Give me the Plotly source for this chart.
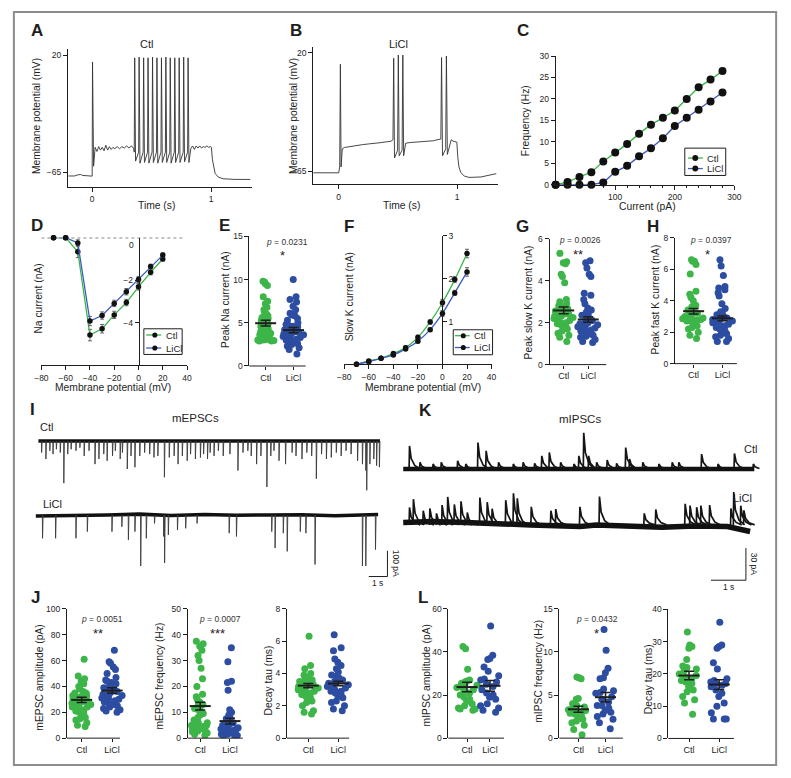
import plotly.graph_objects as go

W, H = 791, 778
FONT = "Liberation Sans, Arial, Helvetica, sans-serif"
INK = "#1e1e1e"
GREEN = "#3db549"
BLUE = "#2c4da1"
GREEN_LINE = "#3bb54a"
BLUE_LINE = "#3d5cc2"

# ------------------------------------------------------------------ data
# A: Ctl current-clamp trace (time s, mV)
A_rest_t = [-0.2, -0.15, -0.12, -0.1, -0.08, -0.04, 0.0]
A_rest_v = [-67.8, -67.8, -67.0, -66.7, -67.4, -67.8, -67.9]
A_early_t = [0.003, 0.012, 0.025, 0.04, 0.055, 0.07, 0.085, 0.10, 0.115, 0.13, 0.145,
             0.16, 0.175, 0.19, 0.21, 0.23, 0.25, 0.27, 0.29, 0.31, 0.33, 0.35]
A_early_v = [15.0, -60.7, -47.0, -50.0, -46.5, -49.0, -47.0, -49.5, -45.5, -49.0, -46.5,
             -48.5, -47.0, -48.0, -46.5, -48.0, -46.5, -47.5, -46.0, -47.5, -46.0, -48.0]
A_spike_t = [0.358, 0.395, 0.433, 0.470, 0.508, 0.545, 0.583, 0.620, 0.657, 0.695, 0.732, 0.770, 0.807]
A_spike_peak = [18.0, 18.5, 18.0, 18.0, 18.5, 18.0, 18.0, 18.5, 18.0, 18.0, 18.0, 18.5, 18.0]
A_spike_trough = [-57.0, -58.5, -58.0, -58.5, -58.0, -58.5, -58.0, -58.0, -58.5, -58.0, -58.0, -57.5, -58.0]
A_threshold = -50.5
A_late_t = [0.83, 0.845, 0.86, 0.875, 0.89, 0.905, 0.92, 0.935, 0.95, 0.965, 0.98, 0.995,
            1.003, 1.012, 1.022, 1.035, 1.06, 1.1, 1.2, 1.33]
A_late_v = [-48.0, -46.0, -48.5, -46.0, -47.5, -46.0, -47.5, -46.5, -47.0, -46.0, -47.0, -46.5,
            -47.0, -56.0, -62.0, -66.0, -68.5, -69.8, -70.3, -70.3]

# B: LiCl current-clamp trace (time s, mV)
B_t = [-0.215, -0.1, -0.02, 0.0, 0.008, 0.014, 0.02, 0.03, 0.05, 0.08, 0.12, 0.16, 0.2, 0.25,
       0.3, 0.35, 0.4, 0.44, 0.458, 0.464, 0.471, 0.497, 0.503, 0.510, 0.535, 0.541, 0.548,
       0.565, 0.6, 0.65, 0.7, 0.75, 0.8, 0.83, 0.862, 0.868, 0.876, 0.903, 0.909, 0.917, 0.935,
       0.95, 0.965, 0.98, 0.997, 1.005, 1.015, 1.03, 1.06, 1.1, 1.2, 1.33]
B_v = [-66.2, -66.3, -66.2, -66.2, -62.0, 11.7, -62.0, -49.0, -48.0, -47.5, -47.0, -46.3, -46.0,
       -45.5, -45.2, -44.6, -44.0, -43.6, -42.5, 16.0, -55.5, -50.0, 18.3, -54.0, -50.0, 18.3,
       -54.0, -45.0, -44.5, -44.2, -43.8, -43.5, -43.2, -42.5, -42.0, 16.5, -54.0, -49.0, 17.6,
       -53.0, -46.0, -42.5, -43.5, -44.0, -44.2, -55.0, -62.0, -66.0, -68.5, -69.5, -69.2, -66.8]

# C: firing frequency vs injected current
C_current = [0, 20, 40, 60, 80, 100, 120, 140, 160, 180, 200, 220, 240, 260, 280]
C_ctl = [0, 0.6, 1.8, 2.9, 5.4, 7.5, 9.5, 11.9, 14.0, 15.6, 17.3, 20.0, 22.7, 24.5, 26.5]
C_licl = [0, 0, 0, 0, 0.5, 3.0, 4.4, 6.6, 8.5, 10.8, 13.7, 15.6, 17.5, 19.4, 21.5]

# D: Na current I-V
IV_mv = [-70, -60, -50, -40, -30, -20, -10, 0, 10, 20]
D_ctl = [0, 0, -0.66, -4.58, -4.28, -3.63, -3.05, -2.31, -1.63, -1.0]
D_ctl_err = [0.02, 0.03, 0.28, 0.27, 0.2, 0.17, 0.15, 0.15, 0.12, 0.1]
D_licl = [0, 0, -0.25, -3.92, -3.66, -3.09, -2.54, -1.97, -1.35, -0.82]
D_licl_err = [0.02, 0.03, 0.15, 0.22, 0.17, 0.15, 0.15, 0.14, 0.1, 0.1]

# F: slow K current I-V
F_ctl = [0, 0.08, 0.14, 0.25, 0.39, 0.63, 0.99, 1.44, 1.98, 2.59]
F_ctl_err = [0.01, 0.02, 0.02, 0.03, 0.04, 0.05, 0.05, 0.08, 0.07, 0.1]
F_licl = [0, 0.06, 0.14, 0.22, 0.36, 0.54, 0.81, 1.19, 1.67, 2.16]
F_licl_err = [0.01, 0.02, 0.02, 0.03, 0.03, 0.04, 0.04, 0.07, 0.06, 0.1]

# scatter groups
GROUPS = ["Ctl", "LiCl"]
E_ctl = [9.8, 9.7, 9.5, 9.3, 8.0, 7.5, 7.2, 6.8, 6.5, 6.2, 6.0, 5.8, 5.6, 5.5, 5.3, 5.1, 5.0, 4.9,
         4.8, 4.7, 4.6, 4.5, 4.4, 4.3, 4.2, 4.0, 3.9, 3.8, 3.6, 3.4, 3.3, 3.1, 3.0, 3.0, 2.9, 2.9,
         3.2, 3.5, 3.0, 3.1, 2.95, 3.3, 3.8, 4.1]
E_licl = [10.0, 8.0, 7.7, 7.4, 6.9, 6.5, 6.1, 5.9, 5.8, 5.5, 5.3, 5.0, 4.8, 4.7, 4.6, 4.5, 4.4,
          4.3, 4.2, 4.1, 4.0, 3.9, 3.9, 3.8, 3.7, 3.6, 3.6, 3.5, 3.4, 3.3, 3.2, 3.1, 3.0, 2.9,
          2.8, 2.7, 2.6, 2.5, 2.3, 2.1, 1.9, 1.4]
E_mean, E_sem = [4.95, 4.15], [0.33, 0.30]
G_ctl = [5.3, 4.9, 4.85, 4.8, 4.3, 4.2, 3.9, 3.1, 3.0, 2.9, 2.8, 2.8, 2.7, 2.65, 2.6, 2.6, 2.55,
         2.5, 2.45, 2.4, 2.4, 2.35, 2.3, 2.3, 2.25, 2.2, 2.2, 2.1, 2.0, 2.0, 1.95, 1.9, 1.8, 1.8,
         1.7, 1.6, 1.5, 1.4, 1.3, 1.1]
G_licl = [4.95, 4.85, 4.6, 4.3, 4.2, 3.4, 3.3, 3.1, 2.9, 2.7, 2.6, 2.5, 2.4, 2.35, 2.3, 2.2, 2.1,
          2.0, 2.0, 1.95, 1.9, 1.9, 1.85, 1.8, 1.75, 1.7, 1.65, 1.6, 1.55, 1.5, 1.45, 1.4, 1.35,
          1.3, 1.2, 1.1, 1.05]
G_mean, G_sem = [2.58, 2.15], [0.16, 0.13]
H_ctl = [6.6, 6.5, 6.5, 6.3, 5.7, 4.6, 4.4, 4.2, 4.0, 3.7, 3.6, 3.5, 3.4, 3.3, 3.3, 3.2, 3.2, 3.1,
         3.0, 3.0, 2.9, 2.9, 2.85, 2.8, 2.8, 2.75, 2.7, 2.7, 2.6, 2.5, 2.4, 2.3, 2.2, 2.0, 1.8, 1.6]
H_licl = [6.6, 6.2, 5.6, 4.9, 4.8, 4.7, 4.5, 4.3, 3.8, 3.5, 3.3, 3.2, 3.1, 3.0, 3.0, 2.9, 2.9,
          2.85, 2.8, 2.8, 2.7, 2.7, 2.6, 2.5, 2.5, 2.4, 2.3, 2.2, 2.1, 2.0, 1.9, 1.8, 1.7, 1.6,
          1.4, 1.4]
H_mean, H_sem = [3.33, 2.88], [0.17, 0.15]
J1_ctl = [61, 48, 46, 44, 42, 40, 38, 36, 35, 35, 34, 33, 33, 32, 32, 31, 31, 30, 29, 29, 28, 28,
          27, 27, 26, 26, 25, 24, 24, 23, 22, 21, 20, 19, 18, 16, 15, 14, 12, 10, 9]
J1_licl = [68, 59, 58, 55, 53, 50, 47, 45, 44, 43, 42, 40, 39, 39, 38, 37, 36, 36, 35, 34, 34, 33,
           32, 31, 30, 30, 29, 28, 27, 26, 26, 25, 24, 23, 22, 21, 20]
J1_mean, J1_sem = [29.6, 36.8], [2.0, 2.1]
J2_ctl = [37.5, 36.5, 35.5, 34, 32, 30, 27, 23, 20, 17, 16, 15, 14, 13, 13, 12, 11.5, 11, 10, 9.5,
          9, 8, 7, 6, 6, 5.5, 5, 5, 4.5, 4.5, 4, 4, 3.8, 3.5, 3, 2.8, 2.5, 2, 1.5, 1]
J2_licl = [35, 29.5, 22, 21.5, 18.5, 11, 10, 9, 8, 7.5, 7, 6.5, 6, 5.5, 5.5, 5, 4.5, 4, 4, 3.5,
           3.5, 3, 3, 3, 2.5, 2.5, 2, 2, 1.5, 1.5, 1, 1, 0.5]
J2_mean, J2_sem = [12.4, 6.6], [1.5, 1.1]
J3_ctl = [6.3, 4.5, 4.3, 4.0, 3.9, 3.8, 3.7, 3.6, 3.6, 3.5, 3.5, 3.4, 3.4, 3.3, 3.3, 3.2, 3.2, 3.1,
          3.1, 3.0, 3.0, 2.9, 2.9, 2.8, 2.7, 2.6, 2.5, 2.4, 2.3, 2.2, 2.0, 1.7, 1.6, 1.5]
J3_licl = [6.4, 5.6, 5.4, 4.9, 4.7, 4.5, 4.3, 4.1, 3.9, 3.8, 3.7, 3.6, 3.6, 3.5, 3.4, 3.4, 3.3,
           3.2, 3.2, 3.1, 3.0, 2.9, 2.9, 2.8, 2.7, 2.6, 2.5, 2.3, 2.2, 2.0, 1.8, 1.7]
J3_mean, J3_sem = [3.25, 3.38], [0.13, 0.14]
L1_ctl = [42.5, 41.5, 32, 27, 26.5, 26, 25.5, 25, 24.5, 24, 23.5, 22.5, 22, 21, 20, 19, 18, 17, 16,
          15, 14, 13.5, 13.5, 13]
L1_licl = [52, 38.5, 37, 36.5, 33, 31, 29, 27.5, 27, 26, 25, 24, 22.5, 21, 20, 19, 18, 16, 15, 14,
           13, 12]
L1_mean, L1_sem = [23.7, 24.3], [2.2, 2.5]
L2_ctl = [7.1, 7.0, 6.9, 4.6, 4.5, 4.0, 3.8, 3.6, 3.4, 3.3, 3.2, 3.1, 3.0, 2.9, 2.8, 2.6, 2.4, 2.2,
          2.0, 1.8, 1.5, 1.0, 0.4]
L2_licl = [12.6, 10.2, 8.1, 7.6, 7.0, 6.9, 5.7, 5.5, 5.3, 5.2, 4.8, 4.5, 4.2, 3.8, 3.8, 3.5, 3.2,
           3.0, 2.8, 2.5, 2.2, 1.8, 1.1]
L2_mean, L2_sem = [3.35, 4.75], [0.35, 0.55]
L3_ctl = [33, 29, 28.5, 28, 24.5, 22.5, 22, 21.5, 21, 20, 19.5, 19, 18.5, 18, 17.5, 17, 16, 15,
          14.5, 13, 12, 11, 7.5]
L3_licl = [36, 29, 28.5, 28, 23.5, 21.5, 18.5, 18, 17.5, 17, 17, 16.5, 16, 15, 14, 13, 11, 10, 8,
           6, 6, 6]
L3_mean, L3_sem = [19.5, 16.7], [1.3, 1.5]

# I: mEPSC events (time s, amplitude pA, inward = downward)
I_ctl_t = [0.16, 0.39, 0.60, 0.77, 0.95, 1.16, 1.35, 1.56, 1.74, 2.0, 2.21, 2.44, 2.70, 3.02, 3.23,
           3.49, 3.67, 3.96, 4.11, 4.37, 4.49, 4.75, 4.95, 5.16, 5.42, 5.68, 5.95, 6.18, 6.39,
           6.74, 7.0, 7.26, 7.47, 7.70, 7.96, 8.14, 8.40, 8.67, 8.84, 9.05, 9.19, 9.40, 9.63,
           9.89, 10.25, 10.68, 10.95, 11.21, 11.39, 11.68, 11.91, 12.23, 12.44, 12.61, 12.88,
           13.23, 13.58, 13.79, 14.11, 14.37, 14.63, 14.88, 15.16, 15.42, 15.68, 15.95, 16.21,
           16.47, 16.74, 17.09, 17.35, 17.53, 17.58, 17.75, 17.96, 18.11, 18.26]
I_ctl_amp = [45, 70, 38, 51, 32, 45, 164, 51, 32, 38, 26, 58, 38, 90, 70, 51, 77, 58, 38, 70, 45,
             109, 58, 102, 58, 45, 51, 64, 58, 141, 64, 58, 90, 58, 77, 51, 70, 64, 51, 70, 45, 58,
             38, 58, 51, 115, 45, 38, 58, 90, 58, 179, 58, 38, 77, 90, 45, 58, 70, 45, 58, 147,
             51, 70, 64, 45, 58, 38, 51, 77, 90, 115, 192, 90, 70, 96, 102]
I_ctl_span = [0.0, 18.3]
I_licl_t = [0.21, 0.91, 2.0, 2.61, 3.93, 4.46, 4.81, 5.16, 5.47, 5.77, 6.21, 6.70, 6.75, 6.95,
            7.44, 7.88, 8.49, 10.21, 10.60, 12.49, 12.67, 13.11, 13.32, 14.02, 14.32, 14.81,
            17.35, 17.53, 18.05]
I_licl_amp = [90, 90, 90, 64, 64, 45, 96, 64, 198, 90, 32, 83, 186, 77, 58, 51, 32, 70, 83, 64,
              128, 70, 141, 64, 70, 192, 198, 198, 134]
I_licl_base_t = [-0.14, 2.0, 3.7, 5.4, 7.1, 8.9, 10.6, 12.4, 14.1, 15.9, 18.2]
I_licl_base_v = [-292, -291, -288, -285, -290, -286, -289, -288, -287, -291, -286]
I_licl_level = -289

# K: mIPSC events (time s, amplitude pA, outward = upward)
K_ctl_t = [0.178, 0.478, 0.852, 1.086, 1.554, 1.788, 2.135, 2.369, 2.725, 3.146, 3.427, 3.755,
           3.96, 4.176, 4.50, 4.88, 5.02, 5.16, 5.30, 5.53, 5.83, 6.10, 6.36, 6.47, 6.85, 7.31,
           7.69, 7.88, 8.53, 9.0, 9.47, 10.01]
K_ctl_amp = [21.4, 6.1, 4.6, 6.1, 7.7, 4.6, 24.5, 16.8, 6.1, 4.6, 6.1, 5.2, 12.2, 15.3, 6.1, 4.6,
             12.2, 33.7, 12.2, 6.1, 8.3, 5.2, 19.9, 9.2, 6.1, 4.6, 6.1, 6.1, 13.8, 4.6, 14.4, 4.6]
K_ctl_span = [0.01, 10.05]
K_licl_t = [0.178, 0.29, 0.57, 0.76, 0.95, 1.11, 1.27, 1.46, 1.65, 1.83, 2.19, 2.40, 2.54, 2.93,
            3.15, 3.26, 3.66, 4.22, 4.36, 5.05, 5.61, 6.89, 7.22, 8.06, 8.20, 8.39, 8.51, 8.76,
            9.37, 9.45, 9.65, 9.74]
K_licl_amp = [16.2, 23.9, 13.2, 15.3, 10.7, 18.4, 26.0, 19.0, 22.0, 11.6, 25.4, 21.1, 15.0, 23.0,
              29.4, 24.8, 16.8, 13.2, 14.7, 16.8, 26.3, 10.7, 14.4, 19.6, 18.0, 16.5, 18.0, 18.4,
              15.3, 30.6, 17.8, 13.5]
K_licl_base_t = [0.01, 0.85, 1.79, 2.73, 3.66, 4.6, 5.07, 5.53, 6.47, 7.41, 8.34, 9.28, 9.93]
K_licl_base_v = [-49.8, -48.9, -49.8, -50.4, -52.0, -52.9, -53.5, -52.0, -53.5, -54.1, -52.9,
                 -53.5, -58.1]
K_licl_level = -52.0

# ------------------------------------------------------------------ helpers
def xd(a, b):
    return [a / W, b / W]


def yd(top, bottom):
    return [1 - bottom / H, 1 - top / H]


def lin(p, pa, va, pb, vb):
    return va + (p - pa) * (vb - va) / (pb - pa)


def refs(i):
    return ("x", "y") if i == 1 else ("x%d" % i, "y%d" % i)


def axstyle(**kw):
    d = dict(showline=True, linecolor=INK, linewidth=1, ticks="outside", ticklen=4,
             tickwidth=1, tickcolor=INK, showgrid=False, zeroline=False, fixedrange=True,
             tickfont=dict(family=FONT, size=8.5, color=INK))
    d.update(kw)
    return d


layout = dict(width=W, height=H, autosize=False, margin=dict(l=0, r=0, t=0, b=0, pad=0),
              paper_bgcolor="white", plot_bgcolor="white", boxmode="overlay", hovermode=False,
              showlegend=False, font=dict(family=FONT, size=10, color=INK))
annotations = []
shapes = []
traces = []


def set_axes(i, xa, ya):
    s = "" if i == 1 else str(i)
    layout["xaxis" + s] = xa
    layout["yaxis" + s] = ya


def ann(text, x, y, size=10, bold=False, angle=0, xanchor="center", yanchor="middle", color=INK):
    annotations.append(dict(text=("<b>%s</b>" % text) if bold else text, x=x / W, y=1 - y / H,
                            xref="paper", yref="paper", showarrow=False, textangle=angle,
                            font=dict(family=FONT, size=size, color=color),
                            xanchor=xanchor, yanchor=yanchor))


def pline(x0, y0, x1, y1, color=INK, width=1):
    shapes.append(dict(type="line", xref="paper", yref="paper", x0=x0 / W, x1=x1 / W,
                       y0=1 - y0 / H, y1=1 - y1 / H, line=dict(color=color, width=width)))


def legend_box(box, rows, line_x, dot_x, text_x, dot_r):
    x0, y0, x1, y1 = box
    shapes.append(dict(type="rect", xref="paper", yref="paper", x0=x0 / W, x1=x1 / W,
                       y0=1 - y1 / H, y1=1 - y0 / H, line=dict(color=INK, width=1),
                       fillcolor="white"))
    for (name, col), ry in zip([("Ctl", GREEN_LINE), ("LiCl", BLUE_LINE)], rows):
        pline(line_x[0], ry, line_x[1], ry, color=col, width=1.3)
        shapes.append(dict(type="circle", xref="paper", yref="paper",
                           x0=(dot_x - dot_r) / W, x1=(dot_x + dot_r) / W,
                           y0=1 - (ry + dot_r) / H, y1=1 - (ry - dot_r) / H,
                           fillcolor="#111", line=dict(color="#111", width=0)))
        ann(name, text_x, ry, size=9.5, xanchor="left")


# ------------------------------------------------------------------ A / B traces
a_t = list(A_rest_t) + list(A_early_t)
a_v = list(A_rest_v) + list(A_early_v)
for ts, pk, tr in zip(A_spike_t, A_spike_peak, A_spike_trough):
    a_t += [ts - 0.004, ts, ts + 0.007]
    a_v += [A_threshold, pk, tr]
a_t += A_late_t
a_v += A_late_v

for i, (tt, vv, geo) in enumerate([(a_t, a_v, (62, 249, 86.7, 207.7, 45, 184.3, 50.7, 169.3)),
                                   (B_t, B_v, (311.7, 500, 337.7, 458.3, 42.7, 181.7, 48.3, 168.3))],
                                  start=1):
    x0, x1, p0, p1, top, bot, p20, p65 = geo
    xr, yr = refs(i)
    traces.append(go.Scatter(x=tt, y=vv, mode="lines", line=dict(color="#333", width=0.9),
                             xaxis=xr, yaxis=yr, cliponaxis=False))
    set_axes(i,
             axstyle(domain=xd(x0, x1), range=[lin(x0, p0, 0, p1, 1), lin(x1, p0, 0, p1, 1)],
                     tickvals=[0, 1], anchor=yr),
             axstyle(domain=yd(top, bot), range=[lin(bot, p20, 20, p65, -65), lin(top, p20, 20, p65, -65)],
                     tickvals=[20, -65], anchor=xr))

# ------------------------------------------------------------------ C
xr, yr = refs(3)
for name, vals, col in [("Ctl", C_ctl, GREEN_LINE), ("LiCl", C_licl, BLUE_LINE)]:
    traces.append(go.Scatter(x=C_current, y=vals, mode="lines+markers", name=name,
                             line=dict(color=col, width=1.4), marker=dict(color="#111", size=8),
                             xaxis=xr, yaxis=yr, cliponaxis=False))
set_axes(3,
         axstyle(domain=xd(558.5, 740.5), range=[0, 300], tickvals=[100, 200, 300], anchor=yr,
                 minor=dict(tickvals=list(range(20, 300, 20)), ticks="outside", ticklen=2.5,
                            tickcolor=INK, tickwidth=1)),
         axstyle(domain=yd(51.7, 182), range=[0, 30], tickvals=[0, 5, 10, 15, 20, 25, 30], anchor=xr))
legend_box((690, 145, 731.7, 172.7), [155, 165.7], (693.3, 708.3), (700.7), 711, 3)

# ------------------------------------------------------------------ D
xr, yr = refs(4)
for name, vals, err, col in [("Ctl", D_ctl, D_ctl_err, GREEN_LINE), ("LiCl", D_licl, D_licl_err, BLUE_LINE)]:
    traces.append(go.Scatter(x=IV_mv, y=vals, mode="lines+markers", name=name,
                             line=dict(color=col, width=1.3), marker=dict(color="#111", size=5.5),
                             error_y=dict(type="data", array=err, color="#555", thickness=0.9, width=2),
                             xaxis=xr, yaxis=yr, cliponaxis=False))
set_axes(4,
         axstyle(domain=xd(35, 183.3), range=[-80, 40], tickvals=[-80, -60, -40, -20, 0, 20, 40], anchor=yr),
         axstyle(domain=yd(235.7, 365), range=[-6, 0], tickvals=[-2, -4], anchor="free",
                 position=134 / W))
shapes.append(dict(type="line", xref=xr, yref=yr, x0=-80, x1=37, y0=0, y1=0,
                   line=dict(color="#111", width=1.3, dash="dot"), layer="below"))
ann("0", 127, 243, size=8.5)
legend_box((139.3, 328, 178.3, 354), [334.3, 347.5], (141.7, 157), 150.5, 159.5, 2.6)

# ------------------------------------------------------------------ F
xr, yr = refs(6)
for name, vals, err, col in [("Ctl", F_ctl, F_ctl_err, GREEN_LINE), ("LiCl", F_licl, F_licl_err, BLUE_LINE)]:
    traces.append(go.Scatter(x=IV_mv, y=vals, mode="lines+markers", name=name,
                             line=dict(color=col, width=1.3, shape="spline", smoothing=0.8),
                             marker=dict(color="#111", size=5.5),
                             error_y=dict(type="data", array=err, color="#555", thickness=0.9, width=2),
                             xaxis=xr, yaxis=yr, cliponaxis=False))
set_axes(6,
         axstyle(domain=xd(343.3, 493.3), range=[-80, 40], tickvals=[-80, -60, -40, -20, 0, 20, 40], anchor=yr),
         axstyle(domain=yd(234, 364), range=[0, 3], tickvals=[1, 2, 3], anchor="free",
                 position=442.7 / W, side="right"))
legend_box((454.3, 329, 494.3, 354.3), [335, 347], (456, 471), 464.5, 473, 2.6)

# ------------------------------------------------------------------ scatter panels
SCATTER = [
    # idx, ctl, licl, mean, sem, yaxis_px, xend_px, ctl_px, licl_px, top_px, bot_px, ymax, dtick
    (5, E_ctl, E_licl, E_mean, E_sem, 246.7, 304, 263.3, 291.7, 234.3, 365.7, 15, 5),
    (7, G_ctl, G_licl, G_mean, G_sem, 552.3, 610, 566.7, 591.7, 236.7, 364.3, 6, 2),
    (8, H_ctl, H_licl, H_mean, H_sem, 680, 743, 699, 728.3, 235.7, 363.3, 8, 2),
    (11, J1_ctl, J1_licl, J1_mean, J1_sem, 61, 115, 76, 107, 611.7, 742.7, 100, 20),
    (12, J2_ctl, J2_licl, J2_mean, J2_sem, 184, 240, 196.7, 227, 611.7, 742.7, 50, 10),
    (13, J3_ctl, J3_licl, J3_mean, J3_sem, 285, 348.3, 306.7, 337.3, 611.7, 742.7, 8, 2),
    (14, L1_ctl, L1_licl, L1_mean, L1_sem, 449.3, 506, 468.3, 491.7, 611.7, 742.7, 60, 20),
    (15, L2_ctl, L2_licl, L2_mean, L2_sem, 562.3, 627, 581.7, 609.3, 611.7, 742.7, 15, 5),
    (16, L3_ctl, L3_licl, L3_mean, L3_sem, 673.3, 740, 694.3, 725, 612.3, 743, 40, 10),
]
for idx, ctl, licl, mean, sem, yax_px, xend, cpx, lpx, top, bot, ymax, dt in SCATTER:
    xr, yr = refs(idx)
    ppu = lpx - cpx
    bw = 2 * 11.5 / ppu
    for grp, vals, col in [("Ctl", ctl, GREEN), ("LiCl", licl, BLUE)]:
        traces.append(go.Box(x=[grp] * len(vals), y=vals, orientation="v", boxpoints="all",
                             jitter=1, pointpos=0, width=bw, whiskerwidth=0,
                             fillcolor="rgba(0,0,0,0)", line=dict(color="rgba(0,0,0,0)", width=0),
                             marker=dict(color=col, size=7, line=dict(width=0)),
                             xaxis=xr, yaxis=yr, hoverinfo="skip"))
    traces.append(go.Scatter(x=GROUPS, y=mean, mode="markers",
                             marker=dict(symbol="line-ew", size=15, color=INK,
                                         line=dict(color=INK, width=2)),
                             error_y=dict(type="data", array=sem, color=INK, thickness=1.5, width=5),
                             xaxis=xr, yaxis=yr, cliponaxis=False))
    lo = (yax_px - cpx) / ppu
    hi = lo + (xend + 30 - yax_px) / ppu
    set_axes(idx,
             axstyle(domain=xd(yax_px, xend + 30), range=[lo, hi], type="category",
                     categoryorder="array", categoryarray=GROUPS, showline=False, ticklen=3,
                     tickfont=dict(family=FONT, size=9, color=INK), anchor=yr),
             axstyle(domain=yd(top, bot), range=[0, ymax], tickvals=list(range(0, ymax + 1, dt)),
                     anchor=xr))
    pline(yax_px, bot, xend, bot)

# ------------------------------------------------------------------ I (mEPSCs)
xr, yr = refs(9)
traces.append(go.Scatter(x=I_ctl_span, y=[0, 0], mode="lines", line=dict(color="#111", width=3.6),
                         xaxis=xr, yaxis=yr))
traces.append(go.Scatter(x=I_licl_base_t, y=I_licl_base_v, mode="lines",
                         line=dict(color="#111", width=3.6), xaxis=xr, yaxis=yr))
ex, ey = [], []
for t, a in zip(I_ctl_t, I_ctl_amp):
    ex += [t, t + 0.01, t + 0.04, None]
    ey += [0, -a, 0, None]
for t, a in zip(I_licl_t, I_licl_amp):
    ex += [t, t + 0.01, t + 0.04, None]
    ey += [I_licl_level, I_licl_level - a, I_licl_level, None]
traces.append(go.Scatter(x=ex, y=ey, mode="lines", line=dict(color="#3a3a3a", width=0.9),
                         xaxis=xr, yaxis=yr, connectgaps=False))
set_axes(9,
         dict(domain=xd(25, 400), range=[lin(25, 32, 0, 51, 1), lin(400, 32, 0, 51, 1)], visible=False,
              anchor=yr, fixedrange=True),
         dict(domain=yd(425, 590), range=[lin(590, 441.7, 0, 467.7, -100), lin(425, 441.7, 0, 467.7, -100)],
              visible=False, anchor=xr, fixedrange=True))
shapes.append(dict(type="line", xref=xr, yref=yr, x0=18.7, x1=18.7, y0=-528, y1=-428,
                   line=dict(color=INK, width=1)))
shapes.append(dict(type="line", xref=xr, yref=yr, x0=17.7, x1=18.7, y0=-528, y1=-528,
                   line=dict(color=INK, width=1)))

# ------------------------------------------------------------------ K (mIPSCs)
xr, yr = refs(10)
traces.append(go.Scatter(x=K_ctl_span, y=[0, 0], mode="lines", line=dict(color="#111", width=4.5),
                         xaxis=xr, yaxis=yr))
traces.append(go.Scatter(x=K_licl_base_t, y=K_licl_base_v, mode="lines", line=dict(color="#111", width=5.5),
                         xaxis=xr, yaxis=yr))
SHAPE_DT = [0, 0.012, 0.06, 0.16, 0.32]
SHAPE_FR = [0, 1, 0.45, 0.15, 0]
kx, ky = [], []
for t, a in zip(K_ctl_t, K_ctl_amp):
    kx += [t + d for d in SHAPE_DT] + [None]
    ky += [f * a for f in SHAPE_FR] + [None]
for t, a in zip(K_licl_t, K_licl_amp):
    kx += [t + d for d in SHAPE_DT] + [None]
    ky += [K_licl_level + f * a for f in SHAPE_FR] + [None]
traces.append(go.Scatter(x=kx, y=ky, mode="lines", line=dict(color="#151515", width=1.7),
                         xaxis=xr, yaxis=yr, connectgaps=False))
set_axes(10,
         dict(domain=xd(400, 766), range=[lin(400, 403, 0, 438.6, 1), lin(766, 403, 0, 438.6, 1)],
              visible=False, anchor=yr, fixedrange=True),
         dict(domain=yd(425, 590), range=[lin(590, 470, 0, 502.7, -30), lin(425, 470, 0, 502.7, -30)],
              visible=False, anchor=xr, fixedrange=True))
shapes.append(dict(type="line", xref=xr, yref=yr, x0=9.81, x1=9.81, y0=-103.4, y1=-73.4,
                   line=dict(color=INK, width=1)))
shapes.append(dict(type="line", xref=xr, yref=yr, x0=8.81, x1=9.81, y0=-103.4, y1=-103.4,
                   line=dict(color=INK, width=1)))

# ------------------------------------------------------------------ texts
for letter, x, y in [("A", 30.5, 26), ("B", 294, 26), ("C", 525, 26), ("D", 31, 223), ("E", 221, 223),
                     ("F", 348, 224), ("G", 525, 224), ("H", 658, 224), ("I", 26, 410),
                     ("K", 426, 411), ("J", 29, 600), ("L", 423, 600)]:
    ann(letter, x, y, size=17, bold=True)

ann("Ctl", 141.7, 39.5, size=11)
ann("LiCl", 398.3, 39.5, size=11)
for text, x, y in [("Membrane potential (mV)", 30, 112), ("Membrane potential (mV)", 291.5, 112),
                   ("Frequency (Hz)", 528, 117), ("Na current (nA)", 32, 297),
                   ("Peak Na current (nA)", 221.7, 298), ("Slow K current (nA)", 348.3, 296),
                   ("Peak slow K current (nA)", 530.7, 301), ("Peak fast K current (nA)", 660, 298),
                   ("mEPSC amplitude (pA)", 33, 681), ("mEPSC frequency (Hz)", 155, 680),
                   ("Decay tau (ms)", 266, 684), ("mIPSC amplitude (pA)", 426.7, 679),
                   ("mIPSC frequency (Hz)", 541, 675), ("Decay tau (ms)", 652.5, 683)]:
    ann(text, x, y, size=10.3, angle=-90)
for text, x, y in [("Time (s)", 151.7, 203.5), ("Time (s)", 401.7, 203.5), ("Current (pA)", 652, 204),
                   ("Membrane potential (mV)", 108.3, 387), ("Membrane potential (mV)", 423, 387)]:
    ann(text, x, y, size=10.3)

for ptxt, px_, py_, stars, sx, sy in [("0.0231", 285, 240, "*", 280, 254),
                                      ("0.0026", 583, 237.7, "**", 581, 252.5),
                                      ("0.0397", 716.7, 237.7, "*", 713, 252.5),
                                      ("0.0051", 96.7, 622.3, "**", 92.7, 637),
                                      ("0.0007", 216.7, 622, "***", 214, 637),
                                      ("0.0432", 600.3, 622.3, "*", 600, 637)]:
    ann("<i>p</i> = " + ptxt, px_, py_, size=8.5, color="#333")
    ann(stars, sx, sy, size=13)

ann("mEPSCs", 191.7, 418, size=11.5)
ann("Ctl", 32, 428, size=11, xanchor="left")
ann("LiCl", 35, 505.5, size=11, xanchor="left")
ann("100 pA", 396, 566, size=8.5, angle=90)
ann("1 s", 377, 586, size=8.5)
ann("mIPSCs", 583.3, 419, size=11.5)
ann("Ctl", 757, 450, size=11)
ann("LiCl", 748.3, 499, size=11)
ann("30 pA", 760.5, 566, size=8.5, angle=90)
ann("1 s", 735, 590, size=8.5)

# frame
shapes.append(dict(type="rect", xref="paper", yref="paper", x0=7 / W, x1=783 / W,
                   y0=1 - 770 / H, y1=1 - 7 / H, line=dict(color="#8c8c8c", width=2), layer="below"))

layout["annotations"] = annotations
layout["shapes"] = shapes

fig = go.Figure(data=traces, layout=layout)
fig.update_traces(showlegend=False)
fig.write_html("out.html", config={"displayModeBar": False, "staticPlot": True},
               post_script="document.body.style.margin='0';document.body.style.padding='0';")
